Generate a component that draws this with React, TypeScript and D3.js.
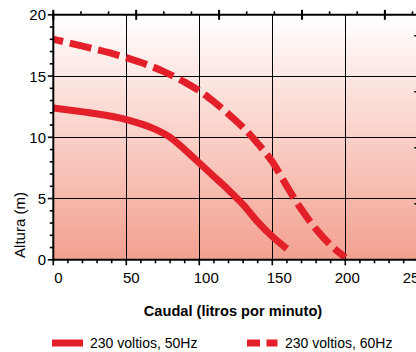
import React from "react";
import * as d3 from "d3";

const flow50 = [0, 25, 50, 60, 70, 80, 90, 100, 110, 120, 130, 140, 150, 160];
const head50 = [12.4, 12.0, 11.45, 11.1, 10.65, 10.0, 9.0, 7.9, 6.8, 5.7, 4.5, 3.1, 1.9, 0.9];
const flow60 = [0, 25, 50, 75, 90, 100, 110, 120, 130, 140, 150, 160, 170, 180, 190, 200];
const head60 = [18.0, 17.3, 16.5, 15.4, 14.5, 13.8, 12.9, 11.9, 10.8, 9.5, 8.0, 6.0, 4.1, 2.5, 1.2, 0.2];
const xTicks = [0, 50, 100, 150, 200, 250];
const yTicks = [0, 5, 10, 15, 20];
const seriesNames = ["230 voltios, 50Hz", "230 voltios, 60Hz"];
const xTitle = "Caudal (litros por minuto)";
const yTitle = "Altura (m)";

const RED = "#e3202a";
const FONT = "'Liberation Sans', Arial, Helvetica, sans-serif";
// small horizontal nudges of the x tick labels (style only)
const xLabelNudge = [5, 5, 7, 7, 2, -3];

export default function App() {
  const W = 416, H = 352;
  const x = d3.scaleLinear().domain([0, 250]).range([53.3, 418.3]);
  const y = d3.scaleLinear().domain([0, 20]).range([259.8, 14.8]);
  // secondary axes: gallons per minute (top) and feet (right)
  const xg = d3.scaleLinear().domain([0, 250 / 3.785]).range(x.range());
  const yf = d3.scaleLinear().domain([0, 20 * 3.2808]).range(y.range());

  const line = d3
    .line<[number, number]>()
    .x((d) => x(d[0]))
    .y((d) => y(d[1]))
    .curve(d3.curveMonotoneX);

  const d50 = line(flow50.map((f, i) => [f, head50[i]] as [number, number])) || "";
  const d60 = line(flow60.map((f, i) => [f, head60[i]] as [number, number])) || "";

  const xMinor = d3.range(0, 251, 10);
  const yMinor = d3.range(0, 21, 1);
  const gMajor = d3.range(0, 67, 15);
  const gMinor = d3.range(0, 67, 5);
  const fMinor = d3.range(0, 66, 5);

  const [x0, x1] = x.range();
  const [y0, y1] = y.range();

  return (
    <svg
      width={W}
      height={H}
      style={{ position: "absolute", left: 0, top: 0, background: "#fff" }}
      fontFamily={FONT}
    >
      <defs>
        <linearGradient id="bg" x1="0" y1="0" x2="0" y2="1">
          <stop offset="0%" stopColor="#ffffff" />
          <stop offset="100%" stopColor="#f3a08f" />
        </linearGradient>
        <clipPath id="plot">
          <rect x={x0} y={y1} width={x1 - x0} height={y0 - y1} />
        </clipPath>
      </defs>
      <rect x={x0} y={y1} width={x1 - x0} height={y0 - y1} fill="url(#bg)" />

      {/* grid */}
      <g stroke="#000" strokeWidth={1} shapeRendering="crispEdges">
        {xTicks.filter((t) => t > 0 && t < 250).map((t) => (
          <line key={"gx" + t} x1={x(t)} x2={x(t)} y1={y1} y2={y0} />
        ))}
        {yTicks.filter((t) => t > 0 && t < 20).map((t) => (
          <line key={"gy" + t} x1={x0} x2={x1} y1={y(t)} y2={y(t)} />
        ))}
      </g>

      {/* curves */}
      <g clipPath="url(#plot)" fill="none" stroke={RED} strokeWidth={7}>
        <path d={d50} />
        <path d={d60} strokeDasharray="22 7" strokeDashoffset={12} />
      </g>

      {/* axes */}
      <g stroke="#000">
        <line x1={x0 - 1} x2={x1 + 1} y1={y0} y2={y0} strokeWidth={2} />
        {xMinor.map((t) => (
          <line key={"bt" + t} x1={x(t)} x2={x(t)} y1={y0} y2={y0 + (t % 50 === 0 ? 5.5 : 3.5)} strokeWidth={1.6} />
        ))}
        <line x1={x0} x2={x0} y1={y1 - 1} y2={y0 + 1} strokeWidth={2} />
        {yMinor.map((t) => (
          <line key={"lt" + t} x1={x0} x2={x0 - (t % 5 === 0 ? 5.5 : 3.5)} y1={y(t)} y2={y(t)} strokeWidth={1.6} />
        ))}
        <line x1={x0 - 1} x2={x1 + 1} y1={y1} y2={y1} strokeWidth={2} />
        {gMinor.map((t) => (
          <line key={"tt" + t} x1={xg(t)} x2={xg(t)} y1={y1} y2={y1 - 3.5} strokeWidth={1.6} />
        ))}
        {gMajor.map((t) => (
          <line key={"tM" + t} x1={xg(t)} x2={xg(t)} y1={y1 - 5} y2={y1 + 5} strokeWidth={2} />
        ))}
        <line x1={x1} x2={x1} y1={y1} y2={y0} strokeWidth={2} />
        {fMinor.map((t) => (
          <line key={"rt" + t} x1={x1} x2={x1 - (t % 15 === 0 ? 4 : 2)} y1={yf(t)} y2={yf(t)} strokeWidth={1.6} />
        ))}
      </g>

      {/* tick labels */}
      <g fontSize={15} fill="#000">
        {xTicks.map((t, i) => (
          <text key={"xl" + t} x={x(t) + xLabelNudge[i]} y={282.5} textAnchor="middle">
            {t}
          </text>
        ))}
        {yTicks.map((t) => (
          <text key={"yl" + t} x={46} y={y(t)} textAnchor="end" dominantBaseline="central">
            {t}
          </text>
        ))}
      </g>

      {/* axis titles */}
      <text x={233} y={316} textAnchor="middle" fontSize={14.6} fontWeight="bold" fill="#000">
        {xTitle}
      </text>
      <text transform="translate(24.5,225) rotate(-90)" textAnchor="middle" fontSize={15} fill="#000">
        {yTitle}
      </text>

      {/* legend */}
      <g>
        <rect x={52} y={339.5} width={31} height={7} fill={RED} />
        <text x={90} y={348} fontSize={14} fill="#000">
          {seriesNames[0]}
        </text>
        <rect x={247} y={339.5} width={13} height={7} fill={RED} />
        <rect x={266.5} y={339.5} width={11} height={7} fill={RED} />
        <text x={285} y={348} fontSize={14} fill="#000">
          {seriesNames[1]}
        </text>
      </g>
    </svg>
  );
}
